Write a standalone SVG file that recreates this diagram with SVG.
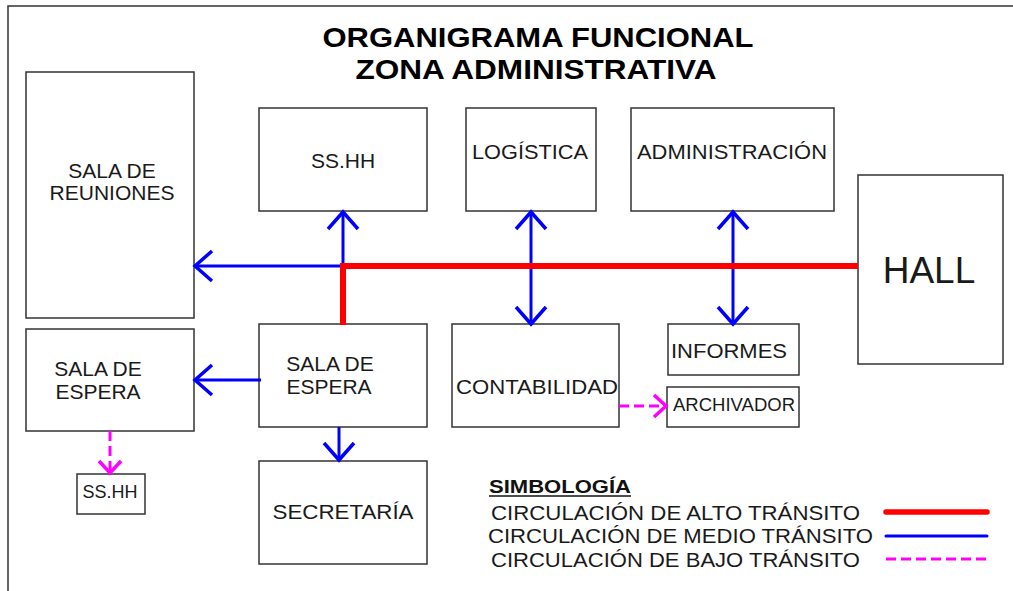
<svg xmlns="http://www.w3.org/2000/svg" width="1013" height="591" viewBox="0 0 1013 591">
<style>
.box{fill:#fff;stroke:#333;stroke-width:1.5}
.t{font-family:"Liberation Sans",Arial,sans-serif;font-size:21px;fill:#1a1a1a;text-anchor:middle}
.title{font-family:"Liberation Sans",Arial,sans-serif;font-size:28px;font-weight:bold;fill:#000;text-anchor:middle}
.lg{font-family:"Liberation Sans",Arial,sans-serif;font-size:20px;fill:#1a1a1a}
.hi{stroke:#ff0000;stroke-width:6;fill:none}
.mid{stroke:#0000ff;stroke-width:3;fill:none}
.low{stroke:#ff00ff;stroke-width:3;fill:none;stroke-dasharray:10 5}
</style>
<defs>
<marker id="ab" markerUnits="userSpaceOnUse" viewBox="-20 -18 24 36" refX="0" refY="0" markerWidth="24" markerHeight="36" orient="auto-start-reverse">
<path d="M-17,-15 L0,0 L-17,15" fill="none" stroke="#0000ff" stroke-width="3.5"/>
</marker>
<marker id="ap" markerUnits="userSpaceOnUse" viewBox="-15 -14 18 28" refX="0" refY="0" markerWidth="18" markerHeight="28" orient="auto">
<path d="M-12,-11 L0,0 L-12,11" fill="none" stroke="#ff00ff" stroke-width="3.5"/>
</marker>
</defs>
<rect width="1013" height="591" fill="#fff"/>
<path d="M8,591 V6 H1013" fill="none" stroke="#333" stroke-width="1.5"/>
<g id="title">
<text class="title" x="538" y="47" textLength="431" lengthAdjust="spacingAndGlyphs">ORGANIGRAMA FUNCIONAL</text>
<text class="title" x="536" y="79" textLength="361" lengthAdjust="spacingAndGlyphs">ZONA ADMINISTRATIVA</text>
</g>
<g id="sala-reuniones"><rect class="box" x="26" y="72" width="168" height="246"/>
<text class="t" x="112" y="178">SALA DE</text><text class="t" x="112" y="200">REUNIONES</text></g>
<g id="sshh"><rect class="box" x="259" y="108" width="168" height="103"/>
<text class="t" x="343" y="168">SS.HH</text></g>
<g id="logistica"><rect class="box" x="466" y="108" width="130" height="103"/>
<text class="t" x="530" y="159" textLength="116" lengthAdjust="spacingAndGlyphs">LOGÍSTICA</text></g>
<g id="administracion"><rect class="box" x="631" y="108" width="203" height="103"/>
<text class="t" x="732" y="159" textLength="190" lengthAdjust="spacingAndGlyphs">ADMINISTRACIÓN</text></g>
<g id="hall"><rect class="box" x="858" y="175" width="145" height="189"/>
<text class="t" x="929" y="283" style="font-size:37px">HALL</text></g>
<g id="sala-espera-1"><rect class="box" x="26" y="329" width="168" height="102"/>
<text class="t" x="98" y="376">SALA DE</text><text class="t" x="98" y="399">ESPERA</text></g>
<g id="sshh-2"><rect class="box" x="77" y="474" width="68" height="40"/>
<text class="t" x="110" y="498" style="font-size:18px">SS.HH</text></g>
<g id="sala-espera-2"><rect class="box" x="259" y="324" width="168" height="103"/>
<text class="t" x="330" y="371">SALA DE</text><text class="t" x="329" y="394">ESPERA</text></g>
<g id="secretaria"><rect class="box" x="259" y="461" width="168" height="103"/>
<text class="t" x="343" y="519" textLength="141" lengthAdjust="spacingAndGlyphs">SECRETARÍA</text></g>
<g id="contabilidad"><rect class="box" x="452" y="324" width="167" height="103"/>
<text class="t" x="537" y="394" textLength="162" lengthAdjust="spacingAndGlyphs">CONTABILIDAD</text></g>
<g id="informes"><rect class="box" x="668" y="324" width="131" height="51"/>
<text class="t" x="729" y="358" textLength="116" lengthAdjust="spacingAndGlyphs">INFORMES</text></g>
<g id="archivador"><rect class="box" x="667" y="387" width="132" height="40"/>
<text class="t" x="734" y="411" style="font-size:17.5px" textLength="122" lengthAdjust="spacingAndGlyphs">ARCHIVADOR</text></g>
<g id="connectors">
<path class="mid" d="M343,266 H195" marker-end="url(#ab)"/>
<path class="mid" d="M343,266 V212" marker-end="url(#ab)"/>
<path class="mid" d="M531,212 V324" marker-start="url(#ab)" marker-end="url(#ab)"/>
<path class="mid" d="M733,212 V324" marker-start="url(#ab)" marker-end="url(#ab)"/>
<path class="mid" d="M261,380 H195" marker-end="url(#ab)"/>
<path class="mid" d="M339,427 V460" marker-end="url(#ab)"/>
<path class="hi" d="M343,325 V266 H858"/>
<path class="low" d="M110,431 V473" marker-end="url(#ap)"/>
<path class="low" d="M619,406 H666" marker-end="url(#ap)"/>
</g>
<g id="legend">
<text x="489" y="493" style="font-family:'Liberation Sans',Arial,sans-serif;font-size:19px;font-weight:bold;fill:#111" textLength="142" lengthAdjust="spacingAndGlyphs">SIMBOLOGÍA</text>
<line x1="489" y1="496" x2="631" y2="496" stroke="#111" stroke-width="1.5"/>
<text class="lg" x="491" y="520" textLength="369" lengthAdjust="spacingAndGlyphs">CIRCULACIÓN DE ALTO TRÁNSITO</text>
<text class="lg" x="488" y="543" textLength="385" lengthAdjust="spacingAndGlyphs">CIRCULACIÓN DE MEDIO TRÁNSITO</text>
<text class="lg" x="491" y="567" textLength="369" lengthAdjust="spacingAndGlyphs">CIRCULACIÓN DE BAJO TRÁNSITO</text>
<line x1="886" y1="512" x2="987" y2="512" stroke="#ff0000" stroke-width="5.5" stroke-linecap="round"/>
<line x1="886" y1="536" x2="987" y2="536" stroke="#0000ff" stroke-width="3" stroke-linecap="round"/>
<line x1="886" y1="559" x2="987" y2="559" stroke="#ff00ff" stroke-width="3" stroke-dasharray="10 5"/>
</g>
</svg>
